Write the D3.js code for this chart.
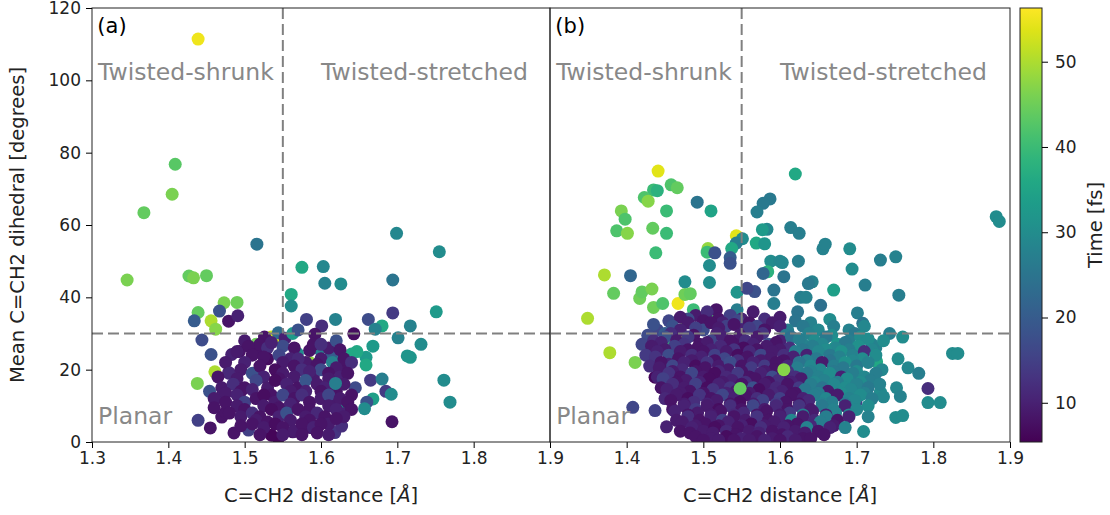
<!DOCTYPE html>
<html>
<head>
<meta charset="utf-8">
<script src="https://cdn.jsdelivr.net/npm/d3@7"></script>
<style>
body { margin: 0; background: #fff; }
text { font-family: "DejaVu Sans", sans-serif; }
</style>
</head>
<body>
<svg id="chart" width="1110" height="515"></svg>
<script>
// tick values
const xTicksA = [1.3, 1.4, 1.5, 1.6, 1.7, 1.8, 1.9];
const xTicksB = [1.4, 1.5, 1.6, 1.7, 1.8, 1.9];
const yTicks = [0, 20, 40, 60, 80, 100, 120];
const cbarTicks = [10, 20, 30, 40, 50];
const timeRange = [5.4, 56.3];
const regionLabels = ["Twisted-shrunk", "Twisted-stretched", "Planar"];

// [distance, dihedral, time]
const pointsA = [
  [1.535,29,52],[1.54,28.2,52],[1.585,22,48],[1.515,27,45],[1.439,35.8,44],
  [1.439,111.4,55],[1.409,76.8,43],[1.405,68.5,46],[1.368,63.4,44],[1.516,54.7,25],[1.699,57.7,29],[1.755,52.6,30],
  [1.346,44.8,46],[1.427,45.9,44],[1.433,45.4,46],[1.45,46,44],[1.575,48.3,36],[1.603,48.5,29],[1.605,43.9,28],
  [1.626,43.7,30],[1.694,44.8,25],[1.561,40.8,36],[1.561,37.6,30],[1.473,38.5,46],[1.49,38.6,45],[1.467,36.2,18],
  [1.434,33.5,20],[1.456,33.5,50],[1.462,31.2,47],[1.479,33.4,8],[1.491,34.9,10],[1.619,33.9,28],[1.581,33.9,15],
  [1.601,32.1,12],[1.662,33.9,17],[1.694,35.7,14],[1.68,32.1,36],[1.717,32.1,28],[1.751,36,33],[1.643,29.9,7],
  [1.671,31.2,28],[1.544,30.2,23],[1.526,29,8],[1.553,28.7,10],[1.563,30,33],[1.57,31,18],[1.592,29.8,8],
  [1.444,28.2,17],[1.456,24.2,18],[1.461,19.4,50],[1.438,16.2,46],[1.454,14,18],[1.483,24.2,10],[1.493,25,8],
  [1.519,25.9,8],[1.761,17.1,30],[1.769,11,30],[1.717,23.4,32],[1.713,23.8,32],[1.731,27,30],[1.701,28.8,28],
  [1.668,26.5,33],[1.659,23.4,33],[1.647,25,36],[1.64,24.3,36],[1.659,21.3,36],[1.665,17.1,14],[1.68,17.4,27],
  [1.685,14,14],[1.692,13.2,30],[1.668,11.9,34],[1.66,11,18],[1.657,9.2,30],[1.693,5.6,8],[1.631,20.4,8],
  [1.619,22.7,28],[1.613,24,20],[1.598,25.7,27],[1.585,25.3,8],[1.569,24.5,30],[1.634,9.6,33],
  [1.63,7.8,10],[1.618,2.6,13],[1.627,4.4,12],[1.586,4,8],[1.563,2.8,8],[1.544,1,6],[1.535,1.9,6],[1.505,3.3,15],
  [1.486,2.5,8],[1.455,3.9,8],[1.439,6,15],[1.47,6.9,8],[1.475,8.3,8],[1.468,12.3,10],[1.479,19.2,10],[1.519,17.8,8],
  // dense part
  [1.50,28,9],[1.52,27,8],[1.53,26,12],[1.55,26.5,17],[1.59,27,8],[1.61,26,9],[1.62,28,18],
  [1.505,26.5,8],[1.535,27.5,10],[1.565,26,8],[1.60,27,12],[1.625,25.5,8],
  [1.49,25,9],[1.51,24,8],[1.53,23,7],[1.545,24,16],[1.56,23,10],[1.58,22,9],[1.60,23,9],[1.615,22,28],[1.63,23,8],
  [1.475,22,9],[1.50,22,10],[1.525,23.5,8],[1.55,22,9],[1.57,23,11],[1.595,21.5,8],[1.62,20.5,9],[1.64,22,12],
  [1.48,19,11],[1.495,20,9],[1.51,19,18],[1.52,21,8],[1.54,20,7],[1.55,19,9],[1.565,21,8],[1.575,20,12],[1.59,18,9],
  [1.60,20,17],[1.61,19,8],[1.625,18,10],
  [1.465,18,8],[1.49,17.5,9],[1.525,18,10],[1.545,17.5,8],[1.565,18,9],[1.585,19.5,10],[1.61,17.5,9],[1.635,19,8],
  [1.645,15,17],
  [1.47,15,9],[1.485,16,12],[1.50,15,8],[1.515,17,16],[1.53,15,9],[1.54,17,7],[1.555,16,10],[1.57,15,8],[1.58,17,19],
  [1.595,16,9],[1.605,15,10],[1.62,14,8],[1.63,16,9],
  [1.475,13.5,9],[1.495,14,8],[1.51,14.5,10],[1.535,13,8],[1.56,14,9],[1.58,14,10],[1.60,14,8],[1.615,11,9],[1.64,13,8],
  [1.46,12,9],[1.475,11,8],[1.49,13,10],[1.50,11,15],[1.515,12,8],[1.525,13,7],[1.54,11,9],[1.55,13,16],[1.565,12,8],
  [1.575,13,12],[1.585,11,8],[1.60,12,9],[1.61,13,16],[1.625,12,9],[1.635,11,8],
  [1.46,9.5,8],[1.49,10,9],[1.50,9,8],[1.525,10,9],[1.545,9.5,8],[1.56,10.5,10],[1.585,9,8],[1.61,10,9],[1.64,9,8],
  [1.48,8,8],[1.495,7,9],[1.51,8,12],[1.52,7,8],[1.535,9,7],[1.545,7,10],[1.555,8,18],[1.57,9,8],[1.58,7,9],
  [1.595,8,11],[1.605,7,8],[1.62,9,10],[1.63,7,9],
  [1.495,4.5,8],[1.515,6,9],[1.53,5.5,8],[1.56,6,9],[1.585,6,8],[1.61,5,9],[1.62,6.5,8],
  [1.51,5,8],[1.525,4,9],[1.54,5,7],[1.55,4,8],[1.565,3,9],[1.575,5,8],[1.59,4,10],[1.60,5,8],
  [1.52,2,8],[1.55,2,9],[1.575,2,8],[1.595,2.5,8],[1.61,2,9],
  [1.619,16.2,27]
];

// [distance, dihedral, time]
const pointsB = [
  [1.476,28.6,53],
  [1.441,74.9,54],[1.435,69.7,40],[1.44,69.5,38],[1.458,71.1,42],[1.466,70.3,44],[1.423,67.6,42],[1.428,66.6,47],
  [1.452,63.9,40],[1.393,63.9,46],[1.398,61.6,42],[1.387,58.4,42],[1.401,57.7,47],[1.434,59.1,44],[1.452,57.7,40],
  [1.438,52.3,40],[1.492,66.3,25],[1.51,63.9,35],[1.62,74.1,36],[1.587,67.2,26],[1.578,66,26],[1.57,63.6,27],
  [1.583,58.8,29],[1.577,58.7,33],[1.614,59.3,27],[1.625,57.7,27],[1.543,57,54],[1.551,56.2,30],[1.569,55,36],
  [1.58,54.8,32],[1.543,55,27],[1.537,53.5,36],[1.656,53.4,28],[1.659,54.7,28],[1.691,53.4,30],[1.731,50.3,27],
  [1.751,51.2,28],[1.882,62.3,30],[1.886,61,30],[1.506,53.5,48],[1.505,52.5,40],[1.515,52.3,18],[1.535,51,20],
  [1.588,50,30],[1.6,50,29],[1.371,46.2,50],[1.405,46,22],[1.535,49.4,18],[1.508,48.8,30],[1.603,49.6,29],
  [1.624,50,27],[1.694,47.8,30],
  [1.383,41.1,44],[1.417,39.7,45],[1.42,41.5,44],[1.433,42.3,46],[1.435,37.2,45],[1.447,38.3,42],[1.467,38.3,55],
  [1.476,40.8,45],[1.483,41,44],[1.477,33.9,46],[1.508,35.3,42],[1.476,44.3,30],[1.508,44.1,30],[1.487,36.6,40],
  [1.517,36.6,8],[1.544,36.6,27],[1.544,41.4,32],[1.567,41.6,18],[1.557,42.5,16],[1.584,47.1,38],[1.578,46.6,22],
  [1.592,42,25],[1.592,38.3,27],[1.605,45.7,25],[1.623,36,25],[1.627,40,27],[1.634,40,28],[1.642,44.3,28],
  [1.637,43.8,26],[1.653,37.8,24],[1.67,42,34],[1.665,33.9,30],[1.701,35.7,27],[1.711,43.4,27],[1.708,32.8,25],
  [1.755,40.6,27],[1.743,30,27],[1.76,29,30],[1.825,24.5,30],[1.832,24.5,30],[1.726,22.2,36],[1.733,20,29],
  [1.754,23,30],[1.767,20.5,29],[1.781,19,27],[1.793,14.8,12],[1.793,10.9,30],[1.809,10.9,30],[1.752,15,29],
  [1.757,12.6,28],[1.751,6.8,30],[1.76,7.3,30],[1.731,13.8,30],[1.709,2.9,30],[1.689,9.7,12],[1.699,11,15],
  [1.687,15,10],[1.669,21,8],[1.671,26,36],[1.725,26,28],[1.408,9.6,16],[1.437,8.7,15],[1.349,34.2,50],
  [1.378,24.7,50],[1.411,22,46],[1.452,26.5,40],[1.431,25.3,16],[1.452,4.2,10],[1.437,17.9,6],
  // dense part
  [1.49,35,9],[1.505,36,12],[1.52,34,8],[1.535,35,15],[1.55,34,10],[1.565,36,9],[1.48,34,17],
  [1.455,33.5,16],[1.47,34.5,9],[1.50,33.5,8],[1.525,33,10],[1.545,33.5,16],[1.56,33,8],[1.58,34,12],[1.60,34.5,9],
  [1.62,33.5,25],[1.64,33,28],
  [1.44,31,16],[1.46,32,18],[1.48,33,9],[1.50,31,17],[1.51,33,8],[1.53,32,15],[1.55,31,10],[1.57,32,16],[1.59,33,9],
  [1.61,31,27],[1.63,32,26],[1.65,31,29],[1.67,32,27],[1.69,31,28],[1.71,32,29],[1.45,30,20],
  [1.435,32.5,18],[1.47,31,10],[1.49,31.5,15],[1.52,31.5,9],[1.54,32.5,8],[1.56,31.5,14],[1.58,31,8],[1.60,32,10],
  [1.4275,29.5,17],[1.4575,30,12],[1.4875,29.5,8],[1.5175,30,10],[1.5475,29.5,9],[1.5775,30,13],[1.6075,29.5,26],
  [1.6375,30,28],[1.6675,29.5,30],[1.6975,30,26],
  [1.42,27,16],[1.435,28,12],[1.45,29,18],[1.465,28,9],[1.48,29,14],[1.495,27,8],[1.51,28,16],[1.525,29,10],
  [1.54,27,8],[1.555,28,12],[1.57,29,9],[1.585,27,18],[1.60,28,10],[1.615,29,24],[1.63,27,28],[1.645,28,30],
  [1.66,29,26],[1.675,27,32],[1.69,28,27],[1.705,29,30],[1.72,27,28],[1.735,28,30],
  [1.445,27.5,10],[1.475,27,13],[1.505,27.5,9],[1.535,28,8],[1.565,27,10],[1.595,27.5,8],[1.625,28.5,27],
  [1.655,27,29],[1.685,27.5,26],[1.715,28.5,30],
  [1.4325,26.5,9],[1.4625,26.5,15],[1.4925,26,8],[1.5225,26.5,11],[1.5525,26,7],[1.5825,26.5,9],[1.6125,26,12],
  [1.6425,26.5,27],[1.6725,26,29],[1.7025,26.5,31],
  [1.45,25.5,9],[1.48,25.5,8],[1.51,25.5,10],[1.54,25.5,13],[1.57,25.5,8],[1.60,25.5,9],[1.63,25.5,26],
  [1.66,25.5,30],[1.69,25.5,27],[1.72,25.5,29],
  [1.425,24,14],[1.44,25,10],[1.455,24,17],[1.47,25,9],[1.485,24,12],[1.50,25,8],[1.515,24,15],[1.53,25,9],
  [1.545,24,7],[1.56,25,11],[1.575,24,16],[1.59,25,9],[1.605,24,12],[1.62,25,27],[1.635,24,10],[1.65,25,29],
  [1.665,24,26],[1.68,25,31],[1.695,24,28],[1.71,25,12],[1.725,24,30],
  [1.4375,23.5,13],[1.4675,23,8],[1.4975,23.5,10],[1.5275,23,16],[1.5575,23.5,8],[1.5875,23,9],[1.6175,23.5,10],
  [1.6475,23,26],[1.6775,23.5,28],[1.7075,23,30],
  [1.455,21.5,10],[1.485,22.5,9],[1.515,22.5,8],[1.545,22.5,12],[1.575,22.5,9],[1.605,22.5,8],[1.635,22.5,27],
  [1.665,22.5,25],[1.695,22.5,29],
  [1.43,21,12],[1.445,22,8],[1.46,21,16],[1.475,22,10],[1.49,21,7],[1.505,22,13],[1.52,21,9],[1.535,22,17],
  [1.55,21,8],[1.565,22,10],[1.58,21,14],[1.595,22,8],[1.61,21,11],[1.625,22,25],[1.64,21,29],[1.655,22,9],
  [1.67,21,27],[1.685,22,31],[1.70,21,26],[1.715,22,28],
  [1.4425,20.5,9],[1.4725,20,11],[1.5025,20.5,8],[1.5325,20,9],[1.5625,20.5,14],[1.5925,20,8],[1.6225,20.5,27],
  [1.6525,20,29],[1.6825,20.5,26],
  [1.46,19.5,9],[1.49,19.5,8],[1.52,19.5,11],[1.55,19.5,8],[1.58,19.5,9],[1.61,19.5,13],[1.64,19.5,28],
  [1.67,19.5,26],[1.70,19.5,30],[1.725,19,27],
  [1.44,18,10],[1.455,19,13],[1.47,18,8],[1.485,19,16],[1.50,18,9],[1.515,19,7],[1.53,18,11],[1.545,19,14],
  [1.56,18,8],[1.575,19,10],[1.59,18,17],[1.605,19,9],[1.62,18,12],[1.635,19,26],[1.65,18,28],[1.665,19,30],
  [1.68,18,10],[1.695,19,27],[1.71,18,29],
  [1.4475,17.5,15],[1.4775,17,9],[1.5075,17.5,7],[1.5375,17,10],[1.5675,17.5,8],[1.5975,17,12],[1.6275,17.5,9],
  [1.6575,17,28],[1.6875,17.5,30],[1.7175,17,27],
  [1.465,16.5,8],[1.495,16.5,10],[1.525,16.5,9],[1.555,16.5,12],[1.585,16.5,8],[1.615,16.5,10],[1.645,16.5,29],
  [1.675,16.5,27],[1.705,16.5,30],[1.73,16,28],
  [1.445,15,8],[1.46,16,12],[1.475,15,9],[1.49,16,15],[1.505,15,7],[1.52,16,10],[1.535,15,13],[1.55,16,8],
  [1.565,15,18],[1.58,16,9],[1.595,15,11],[1.61,16,8],[1.625,15,14],[1.64,16,27],[1.655,15,25],[1.67,16,29],
  [1.685,15,30],[1.70,16,28],[1.715,15,26],
  [1.4525,14.5,10],[1.4825,14,8],[1.5125,14.5,13],[1.5425,14,9],[1.5725,14.5,7],[1.6025,14,10],[1.6325,14.5,26],
  [1.6625,14,9],[1.6925,14.5,29],
  [1.47,13.5,9],[1.50,13.5,8],[1.53,13.5,10],[1.56,13.5,9],[1.59,13.5,11],[1.62,13.5,8],[1.65,13.5,27],
  [1.68,13.5,30],[1.71,13.5,28],[1.735,12.5,29],
  [1.45,12,11],[1.465,13,9],[1.48,12,7],[1.495,13,13],[1.51,12,8],[1.525,13,16],[1.54,12,10],[1.555,13,8],
  [1.57,12,12],[1.585,13,9],[1.60,12,15],[1.615,13,8],[1.63,12,10],[1.645,13,27],[1.66,12,29],[1.675,13,9],
  [1.69,12,28],[1.705,13,30],[1.72,12,27],
  [1.4575,11.5,8],[1.4875,11,12],[1.5175,11.5,9],[1.5475,11,7],[1.5775,11.5,15],[1.6075,11,8],[1.6375,11.5,11],
  [1.6675,11,27],[1.6975,11.5,29],
  [1.475,10.5,9],[1.505,10.5,10],[1.535,10.5,8],[1.565,10.5,9],[1.595,10.5,14],[1.625,10.5,8],[1.655,10.5,28],
  [1.685,10.5,26],[1.715,10,30],
  [1.46,9,8],[1.475,10,10],[1.49,9,14],[1.505,10,9],[1.52,9,7],[1.535,10,12],[1.55,9,8],[1.565,10,16],[1.58,9,9],
  [1.595,10,11],[1.61,9,8],[1.625,10,13],[1.64,9,9],[1.655,10,26],[1.67,9,28],[1.685,10,10],[1.70,9,29],
  [1.4625,8.5,10],[1.4925,8,9],[1.5225,8.5,8],[1.5525,8,11],[1.5825,8.5,8],[1.6125,8,14],[1.6425,8.5,9],[1.6725,8,28],
  [1.48,7.5,8],[1.51,7.5,9],[1.54,7.5,11],[1.57,7.5,8],[1.60,7.5,9],[1.63,7.5,27],[1.66,7.5,10],[1.69,7.5,29],
  [1.715,7,28],
  [1.465,6,9],[1.48,7,12],[1.495,6,8],[1.51,7,10],[1.525,6,15],[1.54,7,8],[1.555,6,9],[1.57,7,13],[1.585,6,8],
  [1.60,7,10],[1.615,6,29],[1.63,7,9],[1.645,6,11],[1.66,7,27],[1.675,6,8],[1.69,7,10],
  [1.4725,5.5,9],[1.5025,5,8],[1.5325,5.5,10],[1.5625,5,7],[1.5925,5.5,9],[1.6225,5,8],[1.6525,5.5,27],
  [1.49,4.5,9],[1.52,4.5,8],[1.55,4.5,10],[1.58,4.5,9],[1.61,4.5,8],[1.64,4.5,11],[1.67,4.5,9],[1.685,4,28],
  [1.47,3,8],[1.485,4,10],[1.50,3,9],[1.515,4,7],[1.53,3,11],[1.545,4,8],[1.56,3,9],[1.575,4,12],[1.59,3,8],
  [1.605,4,10],[1.62,3,9],[1.635,4,28],[1.65,3,8],[1.665,4,10],
  [1.4825,2.5,8],[1.5125,2.5,9],[1.5425,2,8],[1.5725,2.5,10],[1.6025,2,8],[1.6325,2.5,9],[1.6575,2,8],
  [1.49,1.5,8],[1.51,1,9],[1.53,1.5,7],[1.55,1,10],[1.57,1.5,8],[1.59,1,9],[1.61,1.5,11],[1.63,1,8],
  [1.50,0.5,8],[1.52,0.5,9],[1.54,0.5,8],[1.56,0.5,9],[1.58,0.5,10],[1.60,0.5,8],[1.62,0.5,9],[1.64,1,8],
  [1.548,14.8,44],[1.605,20,47]
];

const svg = d3.select("#chart");
const plotTop = 8, plotBottom = 442;
const tickFont = 17, labelFont = 19.5;
const dash = "11,5";

const y = d3.scaleLinear().domain([0, 120]).range([plotBottom, plotTop]);
const color = d3.scaleSequential(d3.interpolateViridis).domain(timeRange);

const panels = [
  { tag: "(a)", pts: pointsA, left: 92, right: 550, ticks: xTicksA },
  { tag: "(b)", pts: pointsB, left: 550, right: 1010, ticks: xTicksB }
];

panels.forEach((p, i) => {
  const x = d3.scaleLinear().domain([1.3, 1.9]).range([p.left, p.right]);

  svg.append("clipPath").attr("id", "clip" + i)
    .append("rect")
    .attr("x", p.left).attr("y", plotTop)
    .attr("width", p.right - p.left).attr("height", plotBottom - plotTop);

  const g = svg.append("g").attr("clip-path", "url(#clip" + i + ")");

  g.selectAll("circle")
    .data(p.pts)
    .join("circle")
    .attr("cx", d => x(d[0]))
    .attr("cy", d => y(d[1]))
    .attr("r", 6.5)
    .attr("fill", d => color(d[2]));

  // vertical divider of the two twisted regions
  g.append("line")
    .attr("x1", x(1.55)).attr("x2", x(1.55))
    .attr("y1", y(120)).attr("y2", y(30))
    .attr("stroke", "#808080").attr("stroke-width", 2)
    .attr("stroke-dasharray", dash);

  g.append("line")
    .attr("x1", p.left).attr("x2", p.right)
    .attr("y1", y(30)).attr("y2", y(30))
    .attr("stroke", "#808080").attr("stroke-width", 2)
    .attr("stroke-dasharray", dash);

  const labels = [[1.308, 100, regionLabels[0]], [1.6, 100, regionLabels[1]], [1.308, 5, regionLabels[2]]];
  g.selectAll("text.region")
    .data(labels)
    .join("text")
    .attr("class", "region")
    .attr("x", d => x(d[0]))
    .attr("y", d => y(d[1]))
    .attr("fill", "#888")
    .attr("font-size", 23.5)
    .text(d => d[2]);

  svg.append("text")
    .attr("x", x(1.307)).attr("y", 33)
    .attr("font-size", 21)
    .text(p.tag);

  const ax = svg.append("g")
    .attr("transform", `translate(0,${plotBottom})`)
    .call(d3.axisBottom(x).tickValues(p.ticks).tickFormat(d3.format(".1f"))
      .tickSize(6).tickPadding(4).tickSizeOuter(0));
  ax.select(".domain").remove();
  ax.selectAll("text").attr("font-size", tickFont).attr("font-family", "DejaVu Sans").attr("fill", "#222");

  svg.append("rect")
    .attr("x", p.left).attr("y", plotTop)
    .attr("width", p.right - p.left).attr("height", plotBottom - plotTop)
    .attr("fill", "none").attr("stroke", "#222").attr("stroke-width", 1);

  const xl = svg.append("text")
    .attr("x", (p.left + p.right) / 2).attr("y", 502)
    .attr("text-anchor", "middle")
    .attr("font-size", labelFont)
    .attr("fill", "#222");
  xl.append("tspan").text("C=CH2 distance [");
  xl.append("tspan").attr("font-style", "italic").text("Å");
  xl.append("tspan").text("]");
});

const ay = svg.append("g")
  .attr("transform", "translate(92,0)")
  .call(d3.axisLeft(y).tickValues(yTicks).tickSize(6).tickPadding(5).tickSizeOuter(0));
ay.select(".domain").remove();
ay.selectAll("text").attr("font-size", tickFont).attr("font-family", "DejaVu Sans").attr("fill", "#222");

svg.append("text")
  .attr("transform", `translate(24,${(plotTop + plotBottom) / 2}) rotate(-90)`)
  .attr("text-anchor", "middle")
  .attr("font-size", labelFont)
  .attr("fill", "#222")
  .text("Mean C=CH2 dihedral [degrees]");

// colorbar
const cbX = 1020, cbW = 22;
const cb = d3.scaleLinear().domain(timeRange).range([plotBottom, plotTop]);
const grad = svg.append("defs").append("linearGradient")
  .attr("id", "viridis").attr("x1", 0).attr("y1", 1).attr("x2", 0).attr("y2", 0);
d3.range(0, 1.0001, 0.05).forEach(s => {
  grad.append("stop").attr("offset", s).attr("stop-color", d3.interpolateViridis(s));
});
svg.append("rect")
  .attr("x", cbX).attr("y", plotTop).attr("width", cbW).attr("height", plotBottom - plotTop)
  .attr("fill", "url(#viridis)").attr("stroke", "#222").attr("stroke-width", 1);

const ac = svg.append("g")
  .attr("transform", `translate(${cbX + cbW},0)`)
  .call(d3.axisRight(cb).tickValues(cbarTicks).tickSize(6).tickPadding(7).tickSizeOuter(0));
ac.select(".domain").remove();
ac.selectAll("text").attr("font-size", tickFont).attr("font-family", "DejaVu Sans").attr("fill", "#222");

svg.append("text")
  .attr("transform", `translate(1102,${(plotTop + plotBottom) / 2}) rotate(-90)`)
  .attr("text-anchor", "middle")
  .attr("font-size", labelFont)
  .attr("fill", "#222")
  .text("Time [fs]");
</script>
</body>
</html>
